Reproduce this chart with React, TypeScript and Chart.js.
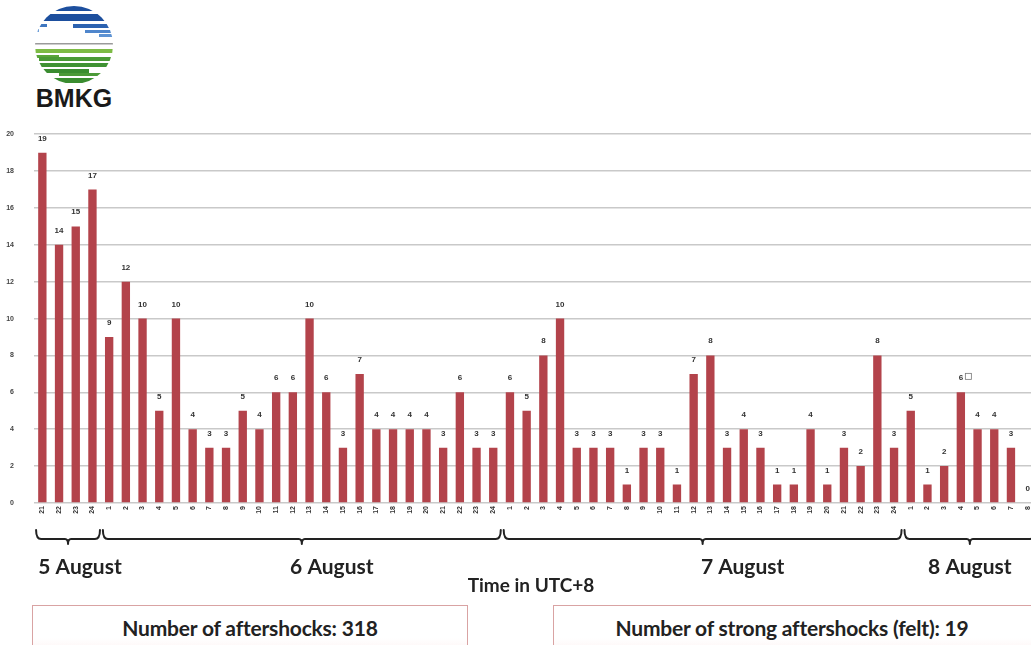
import React, { useEffect, useRef } from "react";
import { Chart, registerables } from "chart.js";

Chart.register(...registerables);

// ---------- DATA ----------
const hours5Aug = ["21", "22", "23", "24"];
const hours6Aug = ["1", "2", "3", "4", "5", "6", "7", "8", "9", "10", "11", "12", "13", "14", "15", "16", "17", "18", "19", "20", "21", "22", "23", "24"];
const hours7Aug = ["1", "2", "3", "4", "5", "6", "7", "8", "9", "10", "11", "12", "13", "14", "15", "16", "17", "18", "19", "20", "21", "22", "23", "24"];
const hours8Aug = ["1", "2", "3", "4", "5", "6", "7", "8"];

const counts5Aug = [19, 14, 15, 17];
const counts6Aug = [9, 12, 10, 5, 10, 4, 3, 3, 5, 4, 6, 6, 10, 6, 3, 7, 4, 4, 4, 4, 3, 6, 3, 3];
const counts7Aug = [6, 5, 8, 10, 3, 3, 3, 1, 3, 3, 1, 7, 8, 3, 4, 3, 1, 1, 4, 1, 3, 2, 8, 3];
const counts8Aug = [5, 1, 2, 6, 4, 4, 3, 0];

const dayNames = ["5 August", "6 August", "7 August", "8 August"];
const axisTitle = "Time in UTC+8";
const totalLabel = "Number of aftershocks: 318";
const strongLabel = "Number of strong aftershocks (felt): 19";

const yMin = 0;
const yMax = 20;
const yStep = 2;

const hourGroups = [hours5Aug, hours6Aug, hours7Aug, hours8Aug];
const countGroups = [counts5Aug, counts6Aug, counts7Aug, counts8Aug];
const labels = hourGroups.flat();
const values = countGroups.flat();
const noteIndex = hours5Aug.length + hours6Aug.length + hours7Aug.length + 3; // "6 □" label on 8 August, hour 4

const BAR_COLOR = "#b3434b";
// horizontal nudges of the day captions relative to their brace centres (style)
const DAY_TEXT_NUDGE = [12, 30, 40, 0];

const overlayPlugin = {
  id: "overlay",
  afterDatasetsDraw(chart: any) {
    const ctx = chart.ctx as CanvasRenderingContext2D;
    const meta = chart.getDatasetMeta(0);
    const xs = chart.scales.x;
    const bottom = chart.chartArea.bottom;
    ctx.save();
    // value labels
    ctx.font = "bold 8px 'Liberation Sans', Arial, sans-serif";
    ctx.fillStyle = "#333";
    ctx.textAlign = "center";
    ctx.textBaseline = "alphabetic";
    meta.data.forEach((bar: any, i: number) => {
      ctx.fillText(String(values[i]), bar.x, bar.y - 12);
      if (i === noteIndex) {
        ctx.strokeStyle = "#777";
        ctx.lineWidth = 0.8;
        ctx.strokeRect(bar.x + 4.5, bar.y - 19, 6, 6);
      }
    });
    // braces and day labels
    const half = (xs.getPixelForValue(1) - xs.getPixelForValue(0)) / 2;
    let start = 0;
    ctx.strokeStyle = "#222";
    ctx.lineWidth = 2;
    ctx.lineCap = "round";
    ctx.lineJoin = "round";
    hourGroups.forEach((g, gi) => {
      const end = start + g.length - 1;
      const x0 = xs.getPixelForValue(start) - half * 0.75;
      const x1 = xs.getPixelForValue(end) + half * 0.9;
      const cx = (x0 + x1) / 2;
      const yTop = bottom + 27;
      const yLine = bottom + 36;
      const yTip = bottom + 41;
      ctx.beginPath();
      ctx.moveTo(x0, yTop);
      ctx.quadraticCurveTo(x0, yLine, x0 + 5, yLine);
      ctx.lineTo(cx - 3, yLine);
      ctx.quadraticCurveTo(cx, yLine, cx, yTip);
      ctx.quadraticCurveTo(cx, yLine, cx + 3, yLine);
      ctx.lineTo(x1 - 5, yLine);
      ctx.quadraticCurveTo(x1, yLine, x1, yTop);
      ctx.stroke();
      ctx.font = "bold 21px Lato, 'Open Sans', sans-serif";
      ctx.fillStyle = "#222";
      ctx.textAlign = "center";
      ctx.textBaseline = "middle";
      ctx.fillText(dayNames[gi], cx + DAY_TEXT_NUDGE[gi], bottom + 64);
      start = end + 1;
    });
    // axis title
    ctx.font = "bold 19px Lato, 'Open Sans', sans-serif";
    ctx.fillStyle = "#222";
    ctx.textAlign = "center";
    ctx.textBaseline = "middle";
    const mid = (xs.getPixelForValue(29) + xs.getPixelForValue(30)) / 2;
    ctx.fillText(axisTitle, mid - 4, bottom + 83);
    ctx.restore();
  },
};

function Logo() {
  return (
    <svg width="90" height="110" viewBox="0 0 90 110" style={{ position: "absolute", left: 29, top: 2 }}>
      <defs>
        <clipPath id="logoClip">
          <circle cx="45" cy="43" r="39" />
        </clipPath>
      </defs>
      <g clipPath="url(#logoClip)">
        <rect x="0" y="4" width="90" height="5" fill="#1d4f9e" />
        <rect x="0" y="12" width="90" height="7" fill="#1d4f9e" />
        <rect x="0" y="22" width="18" height="3" fill="#3f77c0" />
        <rect x="44" y="22" width="46" height="4" fill="#2c62b0" />
        <rect x="0" y="27" width="10" height="3" fill="#6f9fd8" />
        <rect x="56" y="28" width="34" height="3" fill="#4f86cc" />
        <rect x="70" y="32" width="20" height="3" fill="#5e93d3" />
        <rect x="0" y="41" width="90" height="1.5" fill="#9a9a9a" />
        <rect x="0" y="47" width="90" height="4" fill="#7dbb45" />
        <rect x="0" y="53" width="30" height="3" fill="#5aa53a" />
        <rect x="10" y="55" width="80" height="4" fill="#4a9a36" />
        <rect x="0" y="61" width="90" height="4" fill="#3f9233" />
        <rect x="0" y="67" width="60" height="4" fill="#3a8c30" />
        <rect x="30" y="71" width="60" height="3" fill="#4b9a38" />
        <rect x="0" y="76" width="90" height="5" fill="#3a8c30" />
      </g>
      <text x="45" y="105" textAnchor="middle" fontFamily="'Liberation Sans', Arial, sans-serif" fontWeight="bold" fontSize="25" fill="#1a1a1a">BMKG</text>
    </svg>
  );
}

export default function App() {
  const canvasRef = useRef<HTMLCanvasElement | null>(null);

  useEffect(() => {
    if (!canvasRef.current) return;
    const chart = new Chart(canvasRef.current, {
      type: "bar",
      data: {
        labels,
        datasets: [
          {
            data: values,
            backgroundColor: BAR_COLOR,
            barPercentage: 0.5,
            categoryPercentage: 1.0,
          },
        ],
      },
      options: {
        animation: false,
        responsive: true,
        maintainAspectRatio: false,
        layout: { padding: { top: 20, right: 4, left: 0, bottom: 0 } },
        plugins: { legend: { display: false }, tooltip: { enabled: false }, title: { display: false } },
        scales: {
          x: {
            grid: { display: false, drawTicks: false },
            border: { display: false },
            ticks: {
              autoSkip: false,
              minRotation: 90,
              maxRotation: 90,
              padding: 3,
              color: "#333",
              font: { family: "'Liberation Sans', Arial, sans-serif", size: 7, weight: "bold" },
            },
            afterFit(scale: any) {
              scale.height = 97;
            },
          },
          y: {
            min: yMin,
            max: yMax,
            grid: { color: "#c9c9c9", lineWidth: 1.5, drawTicks: false },
            border: { display: false },
            ticks: {
              stepSize: yStep,
              padding: 20,
              color: "#444",
              font: { family: "'Liberation Sans', Arial, sans-serif", size: 7, weight: "bold" },
            },
            afterFit(scale: any) {
              scale.width = 34;
            },
          },
        },
      },
      plugins: [overlayPlugin],
    });
    return () => chart.destroy();
  }, []);

  const boxStyle: React.CSSProperties = {
    position: "absolute",
    top: 605,
    height: 48,
    border: "1.5px solid #d9a3a3",
    background: "linear-gradient(#fff 0%, #fff 70%, #fdf3f3 100%)",
    boxSizing: "border-box",
    display: "flex",
    alignItems: "flex-start",
    justifyContent: "center",
    paddingTop: 9,
    fontFamily: "Lato, 'Open Sans', sans-serif",
    fontWeight: 700,
    fontSize: 21,
    letterSpacing: -0.2,
    color: "#222",
  };

  return (
    <div style={{ position: "fixed", left: 0, top: 0, width: 1031, height: 645, overflow: "hidden", background: "#fff" }}>
      <Logo />
      <div style={{ position: "absolute", left: 0, top: 110, width: 1040, height: 490 }}>
        <canvas ref={canvasRef} />
      </div>
      <div style={{ ...boxStyle, left: 32, width: 436 }}>{totalLabel}</div>
      <div style={{ ...boxStyle, left: 553, width: 490 }}>
        <span style={{ marginLeft: -12 }}>{strongLabel}</span>
      </div>
    </div>
  );
}
